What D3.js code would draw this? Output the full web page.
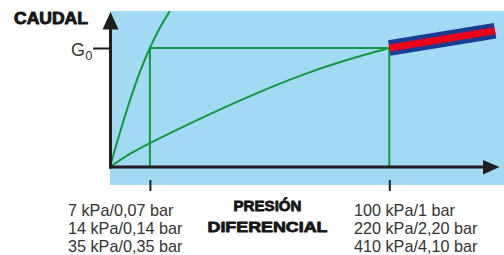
<!DOCTYPE html>
<html><head><meta charset="utf-8">
<script src="https://cdn.jsdelivr.net/npm/d3@7"></script>
<style>html,body{margin:0;padding:0;background:#fff;}svg{display:block;}</style>
</head><body>
<svg id="c" width="504" height="255"></svg>
<script>
// Data (abstract pressure units on x, flow relative to G0 on y)
const steepCurve = [[0,0],[0.25,0.29],[0.5,0.56],[0.75,0.8],[1,1],[1.25,1.17],[1.5,1.31]];
const shallowCurve = [[0,0],[0.5,0.11],[1,0.2],[2,0.365],[3,0.52],[4,0.665],[5,0.795],[6,0.905],[7,1.0]];
const operatingBand = [[7,1.0],[9.65,1.145]];
const boxCorners = [[1,0],[1,1],[7,1],[7,0]];
const xTickValues = [1,7];
const yTickValues = [1];
const leftTickLabels = ["7 kPa/0,07 bar","14 kPa/0,14 bar","35 kPa/0,35 bar"];
const rightTickLabels = ["100 kPa/1 bar","220 kPa/2,20 bar","410 kPa/4,10 bar"];
const yTitle = "CAUDAL";
const xTitle = ["PRESIÓN","DIFERENCIAL"];

const svg = d3.select("#c");
const x = d3.scaleLinear().domain([0,9.75]).range([110,499]);
const y = d3.scaleLinear().domain([0,1]).range([167,48]);

const BG = "#a3daf3", GREEN = "#11993f", AX = "#1e1e1e";

svg.append("rect").attr("x",110).attr("y",11).attr("width",394).attr("height",174).attr("fill",BG);
svg.append("clipPath").attr("id","clip").append("rect").attr("x",110).attr("y",11).attr("width",394).attr("height",174);

const line = d3.line().x(d=>x(d[0])).y(d=>y(d[1])).curve(d3.curveCatmullRom);
const straight = d3.line().x(d=>x(d[0])).y(d=>y(d[1]));
const g = svg.append("g").attr("clip-path","url(#clip)");

g.append("path").datum(boxCorners).attr("d",straight)
  .attr("fill","none").attr("stroke",GREEN).attr("stroke-width",2);
g.append("path").datum(steepCurve).attr("d",line)
  .attr("fill","none").attr("stroke",GREEN).attr("stroke-width",2);
g.append("path").datum(shallowCurve).attr("d",line)
  .attr("fill","none").attr("stroke",GREEN).attr("stroke-width",2);

g.append("path").datum(operatingBand).attr("d",straight).attr("stroke","#1a3c92").attr("stroke-width",15.5).attr("fill","none");
g.append("path").datum(operatingBand).attr("d",straight).attr("stroke","#ec0019").attr("stroke-width",7).attr("fill","none");

// axes lines with arrows
svg.append("line").attr("x1",110.5).attr("x2",110.5).attr("y1",168.5).attr("y2",28).attr("stroke",AX).attr("stroke-width",3);
svg.append("path").attr("d","M110.5,12 L102.5,29.5 L118.5,29.5 Z").attr("fill",AX);
svg.append("line").attr("x1",109).attr("x2",485).attr("y1",167).attr("y2",167).attr("stroke",AX).attr("stroke-width",3);
svg.append("path").attr("d","M499.5,167 L483,160 L483,174.5 Z").attr("fill",AX);

// x ticks (detached, below axis)
const xa = svg.append("g").attr("transform","translate(0,180)")
  .call(d3.axisBottom(x).tickValues(xTickValues).tickSize(11).tickFormat(""));
xa.select(".domain").remove();
xa.selectAll(".tick line").attr("stroke",AX).attr("stroke-width",2);

// y tick
const ya = svg.append("g").attr("transform","translate(110,0)")
  .call(d3.axisLeft(y).tickValues(yTickValues).tickSize(17).tickFormat(""));
ya.select(".domain").remove();
ya.selectAll(".tick line").attr("stroke",AX).attr("stroke-width",2);

// G0 label
const gl = svg.append("text").attr("x",71).attr("y",56).attr("font-family","Liberation Sans, Arial, sans-serif")
  .attr("fill","#333").attr("font-size",18);
gl.append("tspan").text("G");
gl.append("tspan").attr("font-size",13).attr("dy",4).attr("dx",0.3).text("0");

// titles
svg.append("text").attr("x",14).attr("y",24.3).attr("font-family","Liberation Sans, Arial, sans-serif")
  .attr("font-weight","bold").attr("font-size",16.8).attr("fill","#151515")
  .attr("stroke","#151515").attr("stroke-width",0.9).attr("stroke-linejoin","round")
  .attr("textLength",74).attr("lengthAdjust","spacingAndGlyphs").text(yTitle);
const tl = [68,120];
xTitle.forEach((t,i)=>{
  svg.append("text").attr("x",267.5 - tl[i]/2).attr("y",211.3 + i*20.3)
    .attr("font-family","Liberation Sans, Arial, sans-serif").attr("font-weight","bold")
    .attr("font-size",14.8).attr("fill","#151515")
    .attr("stroke","#151515").attr("stroke-width",0.8).attr("stroke-linejoin","round")
    .attr("textLength",tl[i]).attr("lengthAdjust","spacingAndGlyphs").text(t);
});

// tick labels
const lab = (arr, xp) => arr.forEach((t,i)=>{
  svg.append("text").attr("x",xp).attr("y",215.8 + i*18).attr("font-family","Liberation Sans, Arial, sans-serif")
    .attr("font-size",16.2).attr("fill","#333").text(t);
});
lab(leftTickLabels, 68);
lab(rightTickLabels, 354);
</script>
</body></html>
